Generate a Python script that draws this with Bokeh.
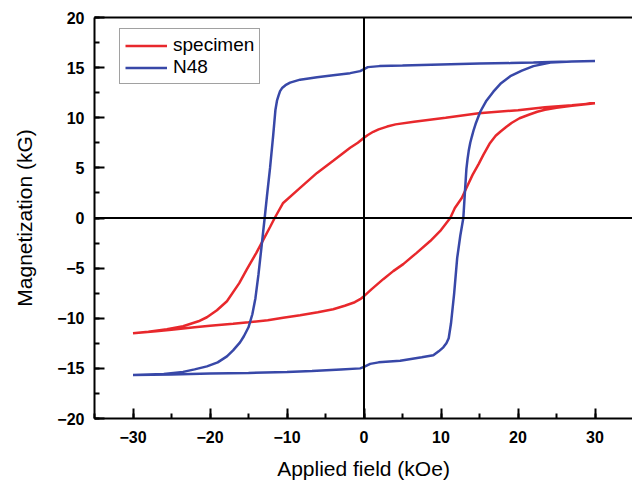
from bokeh.plotting import figure
from bokeh.models import Range1d, Span, LinearAxis, SingleIntervalTicker, FixedTicker
from bokeh.embed import file_html
from bokeh.resources import INLINE

# ---- data ----
n48_down_h = [30, 27, 24.2, 22, 19, 15, 10, 5, 2, 0.5, 0, -0.5, -1.8, -4, -6.1, -8.3, -9.6, -10.2,
              -10.6, -10.9, -11.1, -11.3, -11.5, -11.8, -12.2, -12.6, -12.9, -13.3, -13.7, -14.1,
              -14.5, -15.0, -15.6, -16.1, -17.0, -17.8, -19.0, -20.4, -22.0, -23.5, -26.0, -30]
n48_down_m = [15.65, 15.6, 15.55, 15.5, 15.45, 15.4, 15.3, 15.2, 15.15, 15.05, 14.85, 14.65, 14.45,
              14.25, 14.05, 13.8, 13.5, 13.25, 13.0, 12.65, 12.2, 11.7, 10.8, 8.2, 5.0, 2.2, 0.0,
              -2.8, -5.6, -8.0, -9.6, -10.9, -11.8, -12.4, -13.2, -13.8, -14.4, -14.8, -15.1,
              -15.35, -15.55, -15.65]
n48_up_h = [-30, -25, -20, -15, -10, -6.75, -3, -0.5, 0, 0.8, 1.9, 4.7, 7.5, 9.0, 9.7, 10.3, 10.7,
            11.0, 11.3, 11.7, 12.1, 12.5, 12.9, 13.1, 13.3, 13.45, 13.6, 13.8, 14.0, 14.25, 14.5,
            15.1, 15.9, 16.8, 17.8, 19.0, 20.5, 22.0, 24.2, 27, 30]
n48_up_m = [-15.65, -15.6, -15.5, -15.45, -15.35, -15.25, -15.1, -15.0, -14.85, -14.55, -14.4,
            -14.25, -13.9, -13.7, -13.3, -12.9, -12.5, -12.0, -10.5, -7.6, -4.0, -1.8, 0.0, 2.5,
            4.9, 5.9, 6.7, 7.5, 8.1, 8.8, 9.4, 10.6, 11.7, 12.6, 13.45, 14.15, 14.7, 15.15, 15.5,
            15.6, 15.65]

spec_down_h = [30, 27, 23.5, 20, 14.9, 10.6, 6.5, 4.1, 3.0, 1.9, 1.2, 0.5, 0, -0.8, -1.8, -4, -6.1,
               -8.3, -10.5, -11.6, -12.2, -13.1, -14.0, -15.2, -16.2, -17.8, -19.1, -20.4, -21.5,
               -23.5, -25.6, -28, -30]
spec_down_m = [11.45, 11.25, 11.05, 10.75, 10.44, 10.0, 9.6, 9.34, 9.12, 8.84, 8.6, 8.28, 8.0, 7.5,
               7.0, 5.7, 4.5, 3.0, 1.5, 0.0, -0.9, -2.2, -3.5, -5.1, -6.5, -8.3, -9.2, -9.9, -10.3,
               -10.8, -11.1, -11.35, -11.5]
spec_up_h = [-30, -27, -25, -22, -20, -17, -15, -12.5, -10.5, -8.3, -6, -4, -2.5, -1.2, -0.5, 0, 1,
             2.5, 3.8, 5.1, 6.8, 8.6, 10.0, 11.2, 11.8, 12.7, 13.3, 14.1, 14.9, 15.5, 16.3, 17.1,
             17.7, 18.5, 19.2, 20.2, 21.4, 22.5, 23.5, 25, 27, 30]
spec_up_m = [-11.5, -11.3, -11.15, -10.9, -10.75, -10.55, -10.4, -10.2, -9.95, -9.7, -9.4, -9.1,
             -8.75, -8.4, -8.1, -7.8, -7.1, -6.1, -5.3, -4.6, -3.5, -2.3, -1.2, 0.0, 1.0, 2.0, 3.0,
             4.3, 5.4, 6.3, 7.4, 8.2, 8.6, 9.1, 9.5, 9.95, 10.3, 10.6, 10.8, 11.0, 11.2, 11.45]

x_ticks_interval = 10
y_ticks_interval = 5

RED = "#e8282c"
BLUE = "#3848a8"

p = figure(width=632, height=482, output_backend="svg", toolbar_location=None,
           x_range=Range1d(-35, 34.87), y_range=Range1d(-20, 20),
           min_border_left=94, min_border_right=0, min_border_top=17, min_border_bottom=64)
p.outline_line_color = None
p.xgrid.visible = False
p.ygrid.visible = False
p.background_fill_color = "white"
p.border_fill_color = "white"

p.xaxis.ticker = SingleIntervalTicker(interval=x_ticks_interval, num_minor_ticks=2)
p.yaxis.ticker = SingleIntervalTicker(interval=y_ticks_interval, num_minor_ticks=2)

for ax in (p.xaxis[0], p.yaxis[0]):
    ax.axis_line_width = 2
    ax.axis_line_color = "black"
    ax.major_tick_line_width = 2
    ax.minor_tick_line_width = 2
    ax.major_tick_in = 10
    ax.major_tick_out = 0
    ax.minor_tick_in = 5
    ax.minor_tick_out = 0
    ax.major_label_text_font = "Liberation Sans"
    ax.major_label_text_font_style = "bold"
    ax.major_label_text_font_size = "16px"
    ax.major_label_text_color = "black"
    ax.axis_label_text_font = "Liberation Sans"
    ax.axis_label_text_font_style = "normal"
    ax.axis_label_text_font_size = "21px"
    ax.axis_label_text_color = "black"

p.xaxis.axis_label = "Applied field (kOe)"
p.yaxis.axis_label = "Magnetization (kG)"
p.xaxis.major_label_standoff = 12
p.xaxis.axis_label_standoff = 11
p.yaxis.major_label_standoff = 10
p.yaxis.axis_label_standoff = 18

top = LinearAxis(ticker=FixedTicker(ticks=[]), axis_line_width=2, axis_line_color="black",
                 major_tick_in=0, major_tick_out=0, minor_tick_in=0, minor_tick_out=0)
p.add_layout(top, "above")

p.add_layout(Span(location=0, dimension="height", line_color="black", line_width=2))
p.add_layout(Span(location=0, dimension="width", line_color="black", line_width=2))

p.line(spec_down_h + spec_up_h, spec_down_m + spec_up_m, line_color=RED, line_width=2.5,
       legend_label="specimen")
p.line(n48_down_h + n48_up_h, n48_down_m + n48_up_m, line_color=BLUE, line_width=2.5,
       legend_label="N48")

lg = p.legend[0]
lg.location = (25, 334)
lg.border_line_color = "#444444"
lg.border_line_width = 1.5
lg.background_fill_alpha = 1
lg.padding = 5
lg.spacing = 0
lg.margin = 0
lg.glyph_width = 42
lg.glyph_height = 19
lg.label_height = 19
lg.label_standoff = 6
lg.label_text_font = "Liberation Sans"
lg.label_text_font_size = "19px"
lg.label_text_color = "black"
lg.label_text_baseline = "middle"

open("out.html", "w").write(file_html(p, INLINE))
